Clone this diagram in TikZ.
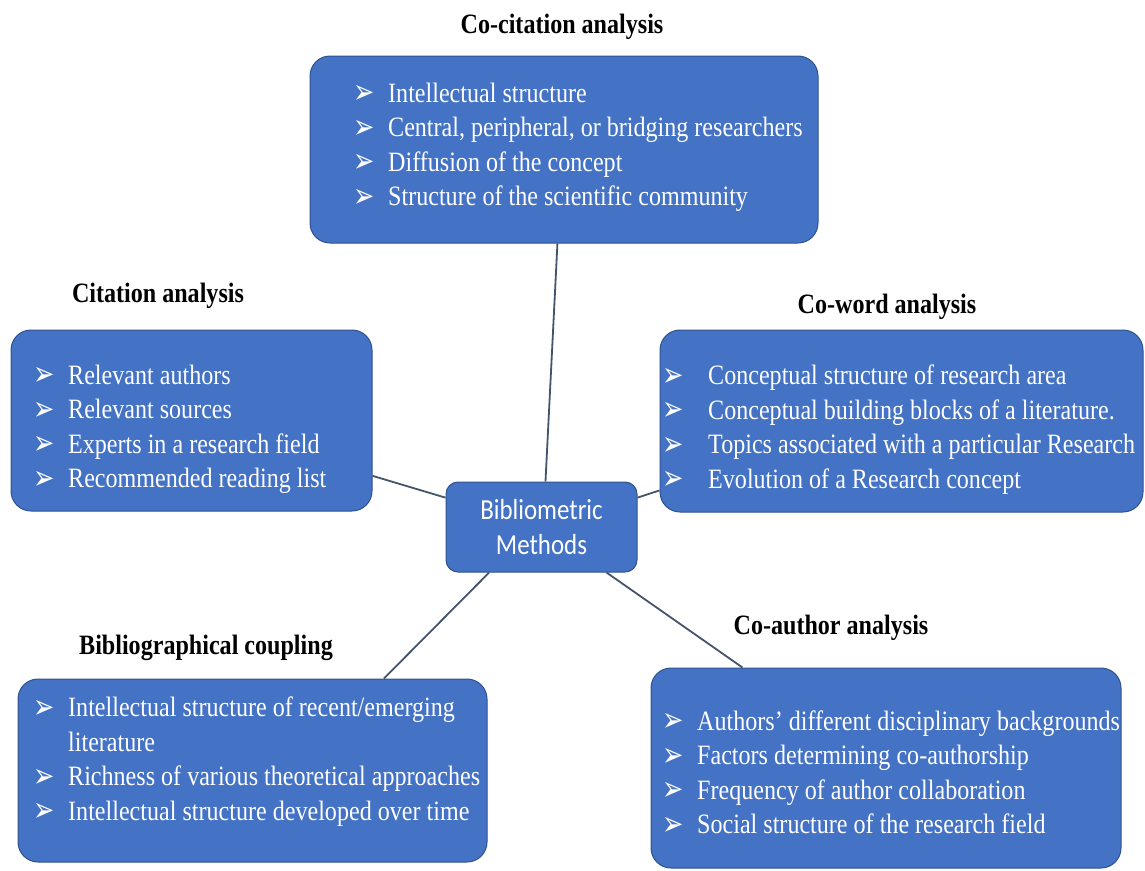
\documentclass[tikz,border=0pt]{standalone}
\usepackage{fontspec}
\setmainfont{Liberation Serif}[FakeStretch=0.86]
\newfontfamily\calfont{Carlito}[FakeStretch=0.86]
\newfontfamily\arrowfont{DejaVu Sans}[FakeStretch=0.75]
\definecolor{boxblue}{HTML}{4472C4}
\definecolor{boxedge}{HTML}{2F528F}
\definecolor{linkcol}{HTML}{44546A}
\newcommand{\itm}[1][35pt]{\makebox[#1][l]{\arrowfont\fontsize{34}{34}\selectfont\raisebox{-1.5pt}{➢}}}

\begin{document}
\begin{tikzpicture}[x=1pt,y=-1pt]
	% Styles of the boxes and the links
	\tikzset{box/.style={draw=boxedge, line width=1pt, fill=boxblue, rounded corners=20pt, inner sep=0pt},
		listtext/.style={text=white, align=left, inner sep=0pt, anchor=west, font=\fontsize{28}{34.5}\selectfont},
		title/.style={anchor=base, inner sep=0pt, font=\bfseries\fontsize{28}{34}\selectfont},
		link/.style={draw=linkcol, line width=1.8pt}}
	\useasboundingbox (0,0) rectangle (1145,870);
	
	% Boxes
	\node[box, minimum width=508pt, minimum height=187pt] (cocit) at (564,149.5) {};
	\node[box, minimum width=361pt, minimum height=181pt] (cit) at (191.5,420.5) {};
	\node[box, minimum width=483pt, minimum height=182pt] (coword) at (901.5,421) {};
	\node[box, minimum width=469pt, minimum height=183pt] (bibcoup) at (252.5,770.5) {};
	\node[box, minimum width=470pt, minimum height=200pt] (coauth) at (886,768) {};
	\node[box, rounded corners=12pt, minimum width=191pt, minimum height=90pt, text=white, align=center,
		font=\calfont\fontsize{29}{35}\selectfont] (bib) at (541.5,527) {Bibliometric\\Methods};
	
	% Links to the centre
	\draw[link] (cocit.-94.2) -- (bib.85.6);
	\draw[link] (cit.-17.4) -- (bib.163.1);
	\draw[link] (bib.17.4) -- (coword.-164.1);
	\draw[link] (bib.-139.2) -- (bibcoup.35.7);
	\draw[link] (bib.-35.1) -- (coauth.145.2);
	
	% Titles
	\node[title] (cocittl) at (562,33) {Co-citation analysis};
	\node[title] (cittl) at (158,302) {Citation analysis};
	\node[title] (cowordtl) at (887,313) {Co-word analysis};
	\node[title] (bibcoutl) at (206,654) {Bibliographical coupling};
	\node[title] (coauthtl) at (831,634) {Co-author analysis};
	
	% Lists
	\node[listtext] (cocittxt) at (353,147.25) {\itm Intellectual structure\\ \itm Central, peripheral, or bridging researchers\\
		\itm Diffusion of the concept\\ \itm Structure of the scientific community};
	\node[listtext] (cittxt) at (33,429.1) {\itm Relevant authors\\ \itm Relevant sources\\
		\itm Experts in a research field\\ \itm Recommended reading list};
	\node[listtext] (cowordtxt) at (662,429.75) {\itm[46pt]Conceptual structure of research area\\ \itm[46pt]Conceptual building blocks of a literature.\\
		\itm[46pt]Topics associated with a particular Research\\ \itm[46pt]Evolution of a Research concept};
	\node[listtext] (bibcoutxt) at (33,761.75) {\itm Intellectual structure of recent/emerging\\ \hspace*{35pt}literature\\
		\itm Richness of various theoretical approaches\\ \itm Intellectual structure developed over time};
	\node[listtext] (coauthtxt) at (662,772.75) {\itm Authors’ different disciplinary backgrounds\\ \itm Factors determining co-authorship\\
		\itm Frequency of author collaboration\\ \itm Social structure of the research field};
\end{tikzpicture}
\end{document}
